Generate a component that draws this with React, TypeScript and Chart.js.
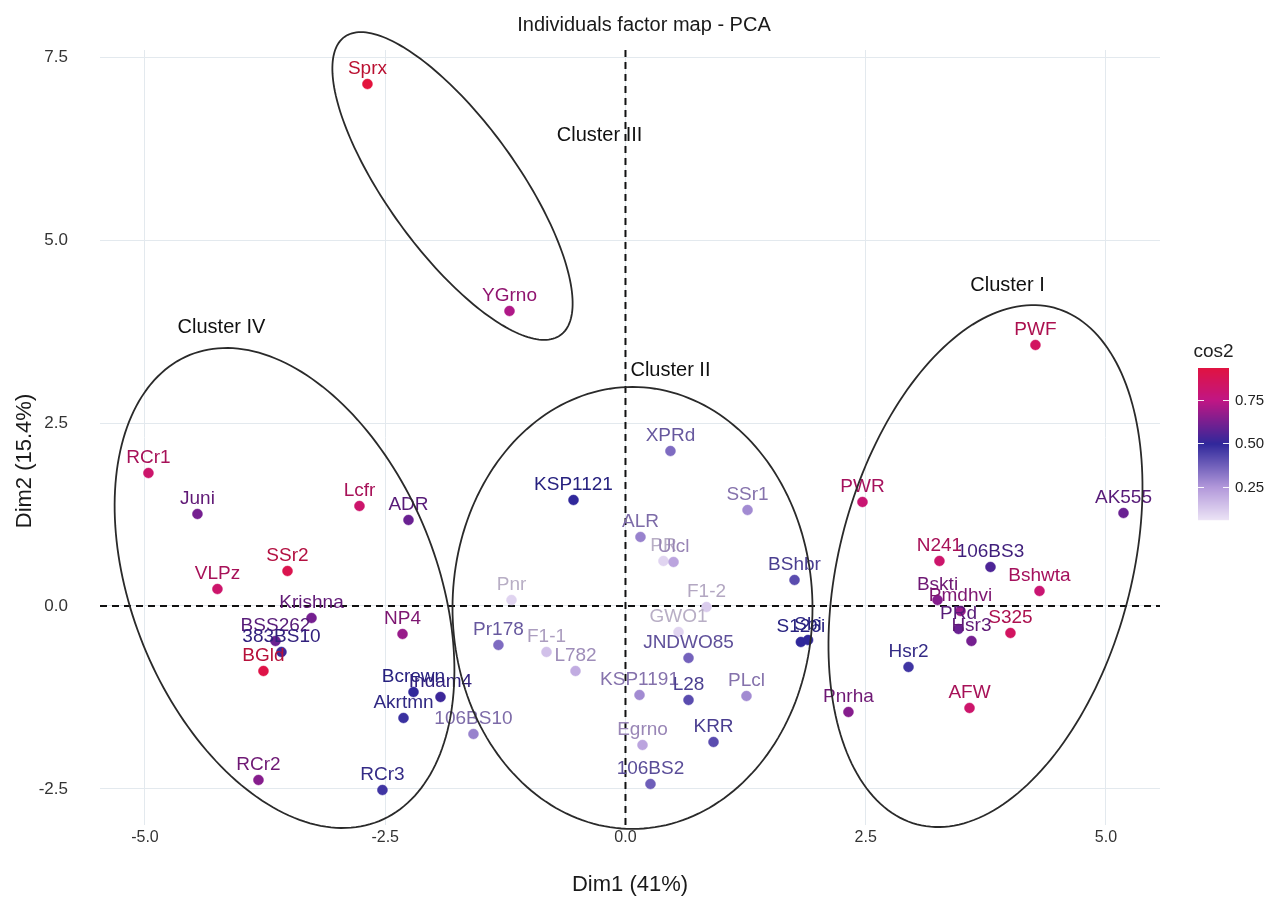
import React, { useEffect, useRef } from "react";
import { Chart, registerables } from "chart.js";

Chart.register(...registerables);

// ---------- data ----------
const names = [
  "RCr1", "Juni", "Lcfr", "ADR", "SSr2", "VLPz", "Krishna", "NP4", "BSS262", "383BS10",
  "BGld", "Bcrewn", "Indam4", "Akrtmn", "RCr2", "RCr3", "106BS10", "Sprx", "YGrno",
  "XPRd", "KSP1121", "SSr1", "ALR", "PR", "Ulcl", "BShbr", "Pnr", "F1-2", "GWO1",
  "JNDWO85", "Pr178", "F1-1", "L782", "S126i", "Sbi", "KSP1191", "L28", "PLcl", "KRR",
  "Egrno", "106BS2", "PWF", "AK555", "PWR", "N241", "106BS3", "Bshwta", "Bskti",
  "Pmdhvi", "PRd", "S325", "Hsr3", "Hsr2", "AFW", "Pnrha",
];
const dim1 = [
  -4.964, -4.454, -2.768, -2.258, -3.517, -4.246, -3.267, -2.32, -3.642, -3.58,
  -3.767, -2.206, -1.925, -2.31, -3.819, -2.529, -1.582, -2.685, -1.207,
  0.468, -0.541, 1.27, 0.156, 0.395, 0.5, 1.759, -1.186, 0.843, 0.552,
  0.656, -1.322, -0.822, -0.52, 1.825, 1.9, 0.146, 0.656, 1.259, 0.916,
  0.177, 0.26, 4.266, 5.182, 2.466, 3.267, 3.798, 4.308, 3.247,
  3.486, 3.465, 4.006, 3.6, 2.945, 3.58, 2.32,
];
const dim2 = [
  1.817, 1.257, 1.366, 1.175, 0.478, 0.232, -0.164, -0.383, -0.478, -0.628,
  -0.888, -1.175, -1.243, -1.53, -2.377, -2.514, -1.749, 7.131, 4.03,
  2.117, 1.448, 1.311, 0.943, 0.615, 0.601, 0.355, 0.082, -0.014, -0.355,
  -0.71, -0.533, -0.628, -0.888, -0.492, -0.465, -1.216, -1.284, -1.23, -1.858,
  -1.899, -2.432, 3.566, 1.27, 1.421, 0.615, 0.533, 0.205, 0.082,
  -0.068, -0.314, -0.369, -0.478, -0.833, -1.393, -1.448,
];
const cos2 = [
  0.82, 0.62, 0.82, 0.6, 0.9, 0.82, 0.62, 0.68, 0.6, 0.52,
  0.92, 0.5, 0.52, 0.48, 0.65, 0.47, 0.3, 0.95, 0.72,
  0.35, 0.5, 0.28, 0.3, 0.1, 0.22, 0.42, 0.1, 0.12, 0.1,
  0.37, 0.35, 0.15, 0.2, 0.5, 0.5, 0.28, 0.42, 0.28, 0.42,
  0.22, 0.38, 0.85, 0.6, 0.8, 0.82, 0.55, 0.8, 0.65,
  0.68, 0.6, 0.85, 0.62, 0.47, 0.82, 0.65,
];

const xTicks = [-5, -2.5, 0, 2.5, 5];
const yTicks = [-2.5, 0, 2.5, 5, 7.5];
const xRange = [-5.468, 5.562];
const yRange = [-2.992, 7.596];
const legendTicks = [0.25, 0.5, 0.75];
const legendRange = [0.06, 0.934];

// cluster ellipses: centre + two conjugate semi-axis vectors (data units)
const clusterNames = ["Cluster I", "Cluster II", "Cluster III", "Cluster IV"];
const clusterCx = [3.746, 0.073, -1.8, -3.548];
const clusterCy = [0.546, -0.027, 5.738, 0.246];
const clusterUx = [0.713, 1.873, 1.124, 0.985];
const clusterUy = [3.529, 0, -2.037, -3.184];
const clusterVx = [1.47, 0, -0.547, -1.468];
const clusterVy = [-0.512, 3.019, -0.52, -0.783];
const clusterLabelX = [3.975, 0.468, -0.27, -4.204];
const clusterLabelY = [4.385, 3.224, 6.434, 3.8];

// ---------- colour scale ----------
const stops: [number, number[]][] = [
  [0.0, [255, 252, 255]],
  [0.25, [178, 152, 218]],
  [0.5, [48, 40, 155]],
  [0.75, [192, 22, 132]],
  [1.0, [236, 18, 42]],
];
function rgbFor(v: number): number[] {
  const t = Math.max(0, Math.min(1, v));
  for (let i = 0; i < stops.length - 1; i++) {
    const [a, ca] = stops[i];
    const [b, cb] = stops[i + 1];
    if (t <= b) {
      const f = (t - a) / (b - a);
      return ca.map((x, k) => Math.round(x + (cb[k] - x) * f));
    }
  }
  return stops[stops.length - 1][1];
}
function colorFor(v: number): string {
  const c = rgbFor(v);
  return `rgb(${c[0]},${c[1]},${c[2]})`;
}
function labelColorFor(v: number): string {
  const c = rgbFor(v).map((x) => Math.round(x * 0.82));
  return `rgb(${c[0]},${c[1]},${c[2]})`;
}

const FONT = "'Liberation Sans', Arial, sans-serif";

const overlayPlugin = {
  id: "overlay",
  beforeDatasetsDraw(chart: any) {
    const { ctx, chartArea, scales } = chart;
    const x0 = scales.x.getPixelForValue(0);
    const y0 = scales.y.getPixelForValue(0);
    ctx.save();
    ctx.strokeStyle = "#111";
    ctx.lineWidth = 2;
    ctx.setLineDash([7, 5]);
    ctx.beginPath();
    ctx.moveTo(chartArea.left, y0);
    ctx.lineTo(chartArea.right, y0);
    ctx.moveTo(x0, chartArea.top);
    ctx.lineTo(x0, chartArea.bottom);
    ctx.stroke();
    ctx.restore();
  },
  afterDatasetsDraw(chart: any) {
    const { ctx, scales } = chart;
    const sx = scales.x;
    const sy = scales.y;
    ctx.save();
    // point labels
    ctx.font = `19px ${FONT}`;
    ctx.textAlign = "center";
    ctx.textBaseline = "middle";
    for (let i = 0; i < names.length; i++) {
      const px = sx.getPixelForValue(dim1[i]);
      const py = sy.getPixelForValue(dim2[i]);
      ctx.fillStyle = labelColorFor(cos2[i]);
      ctx.fillText(names[i], px, py - 15);
    }
    // ellipses
    ctx.strokeStyle = "#2a2a2a";
    ctx.lineWidth = 1.8;
    for (let c = 0; c < clusterNames.length; c++) {
      ctx.beginPath();
      for (let k = 0; k <= 200; k++) {
        const t = (k / 200) * Math.PI * 2;
        const dx = clusterCx[c] + clusterUx[c] * Math.cos(t) + clusterVx[c] * Math.sin(t);
        const dy = clusterCy[c] + clusterUy[c] * Math.cos(t) + clusterVy[c] * Math.sin(t);
        const px = sx.getPixelForValue(dx);
        const py = sy.getPixelForValue(dy);
        if (k === 0) ctx.moveTo(px, py);
        else ctx.lineTo(px, py);
      }
      ctx.closePath();
      ctx.stroke();
    }
    // cluster labels
    ctx.fillStyle = "#111";
    ctx.font = `20px ${FONT}`;
    for (let c = 0; c < clusterNames.length; c++) {
      ctx.fillText(
        clusterNames[c],
        sx.getPixelForValue(clusterLabelX[c]),
        sy.getPixelForValue(clusterLabelY[c])
      );
    }
    ctx.restore();
  },
  afterDraw(chart: any) {
    const { ctx, chartArea } = chart;
    ctx.save();
    // title
    ctx.fillStyle = "#1a1a1a";
    ctx.textAlign = "center";
    ctx.textBaseline = "middle";
    ctx.font = `20px ${FONT}`;
    ctx.fillText("Individuals factor map - PCA", 644, 25);
    // axis titles
    ctx.font = `22px ${FONT}`;
    ctx.fillText("Dim1 (41%)", (chartArea.left + chartArea.right) / 2, 885);
    ctx.save();
    ctx.translate(25, 461);
    ctx.rotate(-Math.PI / 2);
    ctx.fillText("Dim2 (15.4%)", 0, 0);
    ctx.restore();

    // colour bar legend
    const bx = 1198, bw = 31, btop = 368, bbot = 520;
    const vToY = (v: number) =>
      bbot - ((v - legendRange[0]) / (legendRange[1] - legendRange[0])) * (bbot - btop);
    for (let y = btop; y < bbot; y++) {
      const v = legendRange[1] - ((y - btop) / (bbot - btop)) * (legendRange[1] - legendRange[0]);
      ctx.fillStyle = colorFor(v);
      ctx.fillRect(bx, y, bw, 1.2);
    }
    ctx.strokeStyle = "rgba(255,255,255,0.9)";
    ctx.lineWidth = 1;
    ctx.font = `15px ${FONT}`;
    ctx.textAlign = "left";
    ctx.fillStyle = "#222";
    for (const v of legendTicks) {
      const y = Math.round(vToY(v)) + 0.5;
      ctx.beginPath();
      ctx.moveTo(bx, y);
      ctx.lineTo(bx + 6, y);
      ctx.moveTo(bx + bw - 6, y);
      ctx.lineTo(bx + bw, y);
      ctx.stroke();
      ctx.fillText(v.toFixed(2), bx + bw + 6, y);
    }
    ctx.textAlign = "center";
    ctx.font = `19px ${FONT}`;
    ctx.fillText("cos2", bx + bw / 2, 352);
    ctx.restore();
  },
};

export default function App() {
  const canvasRef = useRef<HTMLCanvasElement | null>(null);

  useEffect(() => {
    if (!canvasRef.current) return;
    const points = dim1.map((x, i) => ({ x, y: dim2[i] }));
    const colors = cos2.map((v) => colorFor(v));
    const chart = new Chart(canvasRef.current, {
      type: "scatter",
      data: {
        datasets: [
          {
            data: points,
            pointBackgroundColor: colors,
            pointBorderColor: colors,
            pointBorderWidth: 0.5,
            pointRadius: 5,
            pointHoverRadius: 5,
          },
        ],
      },
      options: {
        animation: false,
        responsive: true,
        maintainAspectRatio: false,
        devicePixelRatio: 1,
        layout: { padding: { top: 50, right: 112, left: 0, bottom: 0 } },
        plugins: {
          legend: { display: false },
          tooltip: { enabled: false },
          title: { display: false },
        },
        events: [],
        scales: {
          x: {
            type: "linear",
            min: xRange[0],
            max: xRange[1],
            afterBuildTicks: (s: any) => {
              s.ticks = xTicks.map((v) => ({ value: v }));
            },
            afterFit: (s: any) => {
              s.height = 80;
            },
            ticks: {
              callback: (v: any) => Number(v).toFixed(1),
              font: { family: FONT, size: 16 },
              color: "#333",
              padding: 3,
              maxRotation: 0,
            },
            grid: { color: "#e3e9ee", lineWidth: 1, drawTicks: false },
            border: { display: false },
          },
          y: {
            type: "linear",
            min: yRange[0],
            max: yRange[1],
            afterBuildTicks: (s: any) => {
              s.ticks = yTicks.map((v) => ({ value: v }));
            },
            afterFit: (s: any) => {
              s.width = 100;
            },
            ticks: {
              callback: (v: any) => Number(v).toFixed(1),
              font: { family: FONT, size: 17 },
              color: "#333",
              padding: 32,
            },
            grid: { color: "#e3e9ee", lineWidth: 1, drawTicks: false },
            border: { display: false },
          },
        },
      },
      plugins: [overlayPlugin],
    });
    return () => chart.destroy();
  }, []);

  return (
    <div
      style={{
        position: "fixed",
        left: 0,
        top: 0,
        width: 1272,
        height: 905,
        background: "#ffffff",
      }}
    >
      <canvas ref={canvasRef} />
    </div>
  );
}
